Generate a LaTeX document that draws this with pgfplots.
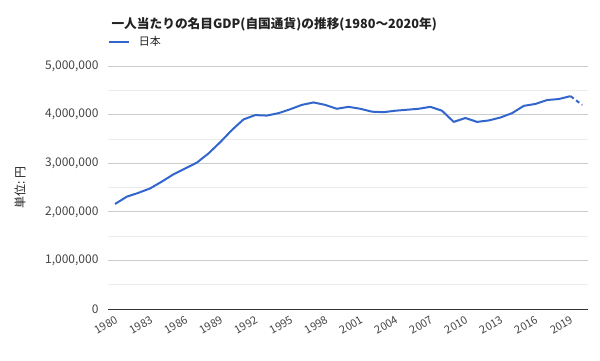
\documentclass[border=0pt]{standalone}
\usepackage{fontspec}
\setmainfont{Noto Sans CJK JP}
\usepackage{pgfplots}
\pgfplotsset{compat=1.18}
\definecolor{gline}{HTML}{3366CC}
\definecolor{majgrid}{HTML}{CCCCCC}
\definecolor{mingrid}{HTML}{EBEBEB}
\definecolor{ticktxt}{HTML}{444444}
\definecolor{titletxt}{HTML}{222222}
\begin{document}
\begin{tikzpicture}
\begin{axis}[
  scale only axis,
  width=480pt, height=243pt,
  at={(0,0)}, anchor=south west,
  xmin=1979.4, xmax=2020.5,
  ymin=0, ymax=5000000,
  xtick={1980,1983,...,2019},
  ytick={0,1000000,...,5000000},
  minor y tick num=1,
  ymajorgrids, yminorgrids,
  major grid style={majgrid, line width=0.8pt},
  minor grid style={mingrid, line width=0.8pt},
  major tick length=0pt, minor tick length=0pt,
  axis x line*=bottom,
  axis y line*=left,
  x axis line style={draw=black!80, -, line width=0.9pt},
  y axis line style={draw=none},
  scaled y ticks=false,
  /pgf/number format/assume math mode=true,
  yticklabel style={/pgf/number format/fixed, /pgf/number format/1000 sep={,}, font=\fontsize{12}{14}\selectfont, text=ticktxt, xshift=-6pt},
  xticklabel style={/pgf/number format/1000 sep={}, font=\fontsize{11}{13}\selectfont, text=ticktxt, rotate=30, anchor=north east, yshift=-2pt},
  every axis y label/.style={at={(axis description cs:-0.183,0.5)}, anchor=center, rotate=90, font=\fontsize{12}{14}\selectfont, text=titletxt},
  ylabel={単位: 円},
  legend style={at={(0,1.0988)}, anchor=west, draw=none, fill=none, inner sep=0pt, outer sep=0pt,
    font=\fontsize{11}{13}\selectfont, text=titletxt, legend cell align=left,
    nodes={inner sep=0pt}},
  legend image code/.code={\draw[#1] (0pt,0pt) -- (20pt,0pt);},
  legend columns=1,
]
\addplot[gline, line width=2pt, line join=round] coordinates {
(1980,2160000) (1981,2310000) (1982,2390000) (1983,2480000) (1984,2620000)
(1985,2770000) (1986,2890000) (1987,3010000) (1988,3200000) (1989,3430000)
(1990,3680000) (1991,3900000) (1992,3990000) (1993,3980000) (1994,4030000)
(1995,4110000) (1996,4200000) (1997,4250000) (1998,4200000) (1999,4120000)
(2000,4160000) (2001,4120000) (2002,4060000) (2003,4050000) (2004,4080000)
(2005,4100000) (2006,4120000) (2007,4160000) (2008,4080000) (2009,3850000)
(2010,3930000) (2011,3850000) (2012,3880000) (2013,3940000) (2014,4030000)
(2015,4180000) (2016,4220000) (2017,4300000) (2018,4320000) (2019,4380000)
};
\addlegendentry{\hspace{9pt}日本}
\addplot[gline, line width=2pt, dash pattern=on 4pt off 3pt, forget plot] coordinates {
(2019,4380000) (2020,4200000)
};
\end{axis}
\node[anchor=base west, font=\bfseries\fontsize{12.7}{15}\selectfont, text=titletxt] at (0pt,281pt) {一人当たりの名目GDP(自国通貨)の推移(1980～2020年)};
\pgfresetboundingbox
\path (-108pt,-51pt) rectangle (492pt,309pt);
\end{tikzpicture}
\end{document}
